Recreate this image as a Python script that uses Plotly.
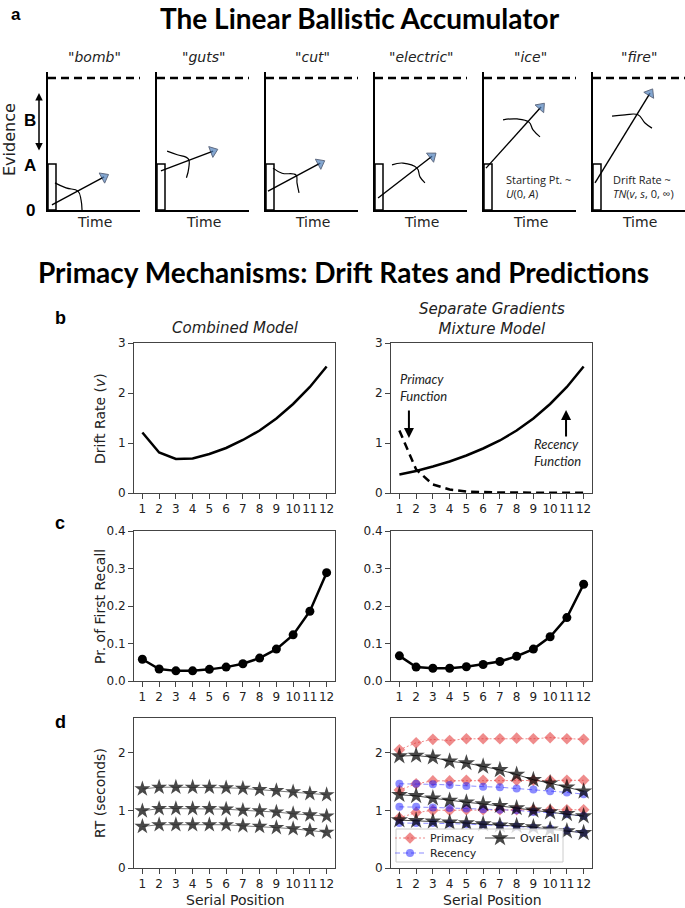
import plotly.graph_objects as go

W, H = 685, 908

# ---------------- data ----------------
positions = list(range(1, 13))
tick_labels = [str(p) for p in positions]

# panel b: drift rates
drift_combined = [1.21, 0.81, 0.68, 0.69, 0.78, 0.90, 1.06, 1.25, 1.49, 1.78, 2.12, 2.53]
drift_recency = [0.37, 0.44, 0.53, 0.63, 0.75, 0.89, 1.05, 1.25, 1.49, 1.78, 2.12, 2.53]
drift_primacy = [1.25, 0.47, 0.17, 0.07, 0.03, 0.015, 0.01, 0.008, 0.006, 0.005, 0.005, 0.005]

# panel c: probability of first recall
pfr_combined = [0.058, 0.032, 0.027, 0.027, 0.031, 0.037, 0.046, 0.061, 0.085, 0.123, 0.186, 0.289]
pfr_mixture = [0.067, 0.037, 0.034, 0.034, 0.038, 0.044, 0.052, 0.066, 0.085, 0.118, 0.169, 0.258]

# panel d: RT quantiles (seconds)
rt_combined_q90 = [1.37, 1.40, 1.40, 1.40, 1.40, 1.39, 1.38, 1.36, 1.34, 1.32, 1.29, 1.27]
rt_combined_q50 = [0.99, 1.03, 1.03, 1.03, 1.03, 1.02, 1.00, 0.99, 0.97, 0.94, 0.92, 0.90]
rt_combined_q10 = [0.72, 0.75, 0.75, 0.75, 0.75, 0.75, 0.73, 0.72, 0.70, 0.68, 0.65, 0.62]

rt_primacy_q90 = [2.05, 2.17, 2.23, 2.21, 2.24, 2.24, 2.24, 2.25, 2.24, 2.26, 2.24, 2.23]
rt_primacy_q50 = [1.35, 1.46, 1.51, 1.51, 1.52, 1.52, 1.52, 1.52, 1.52, 1.52, 1.52, 1.52]
rt_primacy_q10 = [0.87, 0.96, 1.00, 1.00, 1.01, 1.01, 1.01, 1.01, 1.01, 1.01, 1.01, 1.01]

rt_recency_q90 = [1.46, 1.46, 1.45, 1.44, 1.42, 1.41, 1.40, 1.38, 1.36, 1.33, 1.31, 1.28]
rt_recency_q50 = [1.06, 1.06, 1.05, 1.04, 1.03, 1.02, 1.01, 1.00, 0.97, 0.96, 0.93, 0.90]
rt_recency_q10 = [0.78, 0.78, 0.78, 0.77, 0.76, 0.75, 0.74, 0.72, 0.70, 0.68, 0.65, 0.61]

rt_overall_q90 = [1.94, 1.95, 1.92, 1.85, 1.82, 1.76, 1.70, 1.62, 1.53, 1.47, 1.40, 1.33]
rt_overall_q50 = [1.27, 1.25, 1.21, 1.17, 1.14, 1.11, 1.08, 1.04, 1.00, 0.97, 0.94, 0.90]
rt_overall_q10 = [0.83, 0.82, 0.81, 0.79, 0.78, 0.76, 0.74, 0.73, 0.71, 0.67, 0.64, 0.61]

# panel a: LBA schematic (evidence units; A = 1)
lba_words = ["bomb", "guts", "cut", "electric", "ice", "fire"]
lba_threshold = 2.87
lba_A = 1.0
lba_start_x = [0.043, 0.043, 0.022, 0.033, 0.022, 0.022]
lba_start_y = [0.11, 0.85, 0.41, 0.26, 0.91, 0.59]
lba_end_x = [0.61, 0.61, 0.59, 0.62, 0.62, 0.62]
lba_end_y = [0.72, 1.28, 1.02, 1.17, 2.24, 2.54]
lba_squiggle_x = [
    [0.076, 0.196, 0.326, 0.359, 0.37],
    [0.11, 0.22, 0.34, 0.345, 0.32],
    [0.076, 0.174, 0.326, 0.337, 0.359],
    [0.185, 0.304, 0.457, 0.489, 0.543],
    [0.207, 0.359, 0.489, 0.533, 0.609],
    [0.207, 0.348, 0.489, 0.565, 0.641],
]
lba_squiggle_y = [
    [0.59, 0.48, 0.41, 0.22, 0.0],
    [1.28, 1.20, 1.11, 0.91, 0.70],
    [0.91, 0.80, 0.76, 0.59, 0.37],
    [0.98, 1.02, 0.91, 0.72, 0.59],
    [1.96, 1.98, 1.91, 1.74, 1.59],
    [2.04, 2.07, 2.07, 1.89, 1.78],
]

# ---------------- helpers ----------------
def fx(p):
    return p / W

def fy(p):
    return 1 - p / H

DJ = "DejaVu Sans, Verdana, sans-serif"
TXT = "#222222"
SPINE = "#444444"

fig = go.Figure()
layout = {}
shapes = []
annotations = []

def label(text, xp, yp, size=14, family=DJ, color=TXT, angle=0, xanchor="center", align="center"):
    annotations.append(dict(text=text, x=fx(xp), y=fy(yp), xref="paper", yref="paper",
                            xanchor=xanchor, yanchor="middle", align=align, textangle=angle,
                            showarrow=False, font=dict(family=family, size=size, color=color)))

def data_axes(n, xl, xr, yt, yb, yrange, ytickvals, yticktext):
    layout[f"xaxis{n}"] = dict(
        domain=[fx(xl), fx(xr)], range=[0.5, 12.5], anchor=f"y{n}",
        tickvals=positions, ticktext=tick_labels, ticks="outside", ticklen=5,
        tickwidth=1, tickcolor=SPINE, showline=True, mirror=True, linecolor=SPINE,
        linewidth=1, showgrid=False, zeroline=False, tickangle=0, automargin=False,
        tickfont=dict(family=DJ, size=12, color=TXT), fixedrange=True,
    )
    layout[f"yaxis{n}"] = dict(
        domain=[fy(yb), fy(yt)], range=yrange, anchor=f"x{n}",
        tickvals=ytickvals, ticktext=yticktext, ticks="outside", ticklen=5,
        tickwidth=1, tickcolor=SPINE, showline=True, mirror=True, linecolor=SPINE,
        linewidth=1, showgrid=False, zeroline=False, automargin=False,
        tickfont=dict(family=DJ, size=12, color=TXT), fixedrange=True,
    )

LX = (134, 335)
RX = (391, 592)
B_Y = (343, 493)
C_Y = (531, 681)
D_Y = (718, 868)

data_axes(1, *LX, *B_Y, [0, 3], [0, 1, 2, 3], ["0", "1", "2", "3"])
data_axes(2, *RX, *B_Y, [0, 3], [0, 1, 2, 3], ["0", "1", "2", "3"])
data_axes(3, *LX, *C_Y, [0, 0.4], [0, 0.1, 0.2, 0.3, 0.4], ["0.0", "0.1", "0.2", "0.3", "0.4"])
data_axes(4, *RX, *C_Y, [0, 0.4], [0, 0.1, 0.2, 0.3, 0.4], ["0.0", "0.1", "0.2", "0.3", "0.4"])
data_axes(5, *LX, *D_Y, [0, 2.6], [0, 1, 2], ["0", "1", "2"])
data_axes(6, *RX, *D_Y, [0, 2.6], [0, 1, 2], ["0", "1", "2"])

# --- panel b ---
fig.add_trace(go.Scatter(x=positions, y=drift_combined, mode="lines",
                         line=dict(color="black", width=2.5), xaxis="x", yaxis="y",
                         showlegend=False))
fig.add_trace(go.Scatter(x=positions, y=drift_recency, mode="lines",
                         line=dict(color="black", width=2.5), xaxis="x2", yaxis="y2",
                         showlegend=False))
fig.add_trace(go.Scatter(x=positions, y=drift_primacy, mode="lines",
                         line=dict(color="black", width=2.5, dash="8px,5px"),
                         xaxis="x2", yaxis="y2", showlegend=False))

# --- panel c ---
for vals, n in [(pfr_combined, 3), (pfr_mixture, 4)]:
    fig.add_trace(go.Scatter(x=positions, y=vals, mode="lines+markers",
                             line=dict(color="black", width=2.5),
                             marker=dict(color="black", size=9),
                             xaxis=f"x{n}", yaxis=f"y{n}", showlegend=False))

# --- panel d left ---
for vals in [rt_combined_q90, rt_combined_q50, rt_combined_q10]:
    fig.add_trace(go.Scatter(x=positions, y=vals, mode="lines+markers",
                             line=dict(color="rgba(90,90,90,0.8)", width=1),
                             marker=dict(symbol="star", color="rgba(40,40,40,0.85)", size=12,
                                         line=dict(width=0)),
                             xaxis="x5", yaxis="y5", showlegend=False))

# --- panel d right ---
RED = "rgba(225,45,45,0.55)"
BLUE = "rgba(25,25,255,0.5)"
GREY = "rgba(0,0,0,0.72)"
for i, vals in enumerate([rt_primacy_q90, rt_primacy_q50, rt_primacy_q10]):
    fig.add_trace(go.Scatter(x=positions, y=vals, mode="lines+markers", name="Primacy",
                             line=dict(color=RED, width=1, dash="2px,2px"),
                             marker=dict(symbol="diamond", color=RED, size=9, line=dict(width=0)),
                             xaxis="x6", yaxis="y6", showlegend=(i == 0), legend="legend"))
for i, vals in enumerate([rt_recency_q90, rt_recency_q50, rt_recency_q10]):
    fig.add_trace(go.Scatter(x=positions, y=vals, mode="lines+markers", name="Recency",
                             line=dict(color=BLUE, width=1, dash="5px,3px"),
                             marker=dict(symbol="circle", color=BLUE, size=8, line=dict(width=0)),
                             xaxis="x6", yaxis="y6", showlegend=(i == 0), legend="legend3"))
for i, vals in enumerate([rt_overall_q90, rt_overall_q50, rt_overall_q10]):
    fig.add_trace(go.Scatter(x=positions, y=vals, mode="lines+markers", name="Overall",
                             line=dict(color=GREY, width=1),
                             marker=dict(symbol="star", color=GREY, size=13, line=dict(width=0)),
                             xaxis="x6", yaxis="y6", showlegend=(i == 0), legend="legend2"))

# --- panel a: LBA schematic ---
lba_left = [48, 157, 266, 375, 484, 593]
lba_w = 92
LBA_TOP, LBA_BOT = 72, 210
for i, left in enumerate(lba_left):
    n = 7 + i
    layout[f"xaxis{n}"] = dict(domain=[fx(left), min(1.0, fx(left + lba_w))], range=[0, 1],
                               anchor=f"y{n}", showline=True, linecolor="black", linewidth=2,
                               showticklabels=False, ticks="", showgrid=False, zeroline=False,
                               automargin=False, fixedrange=True)
    layout[f"yaxis{n}"] = dict(domain=[fy(LBA_BOT), fy(LBA_TOP)], range=[0, 3],
                               anchor=f"x{n}", showline=True, linecolor="black", linewidth=2,
                               showticklabels=False, ticks="", showgrid=False, zeroline=False,
                               automargin=False, fixedrange=True)
    xa, ya = f"x{n}", f"y{n}"
    fig.add_trace(go.Scatter(x=[0, 1], y=[lba_threshold, lba_threshold], mode="lines",
                             line=dict(color="black", width=2.5, dash="8px,5px"),
                             xaxis=xa, yaxis=ya, showlegend=False, hoverinfo="skip"))
    shapes.append(dict(type="rect", xref=xa, yref=ya, x0=0, x1=8 / lba_w, y0=0, y1=lba_A,
                       line=dict(color="black", width=1.5), fillcolor="white", layer="below"))
    fig.add_trace(go.Scatter(x=lba_squiggle_x[i], y=lba_squiggle_y[i], mode="lines",
                             line=dict(color="black", width=1.2, shape="spline", smoothing=1.2),
                             xaxis=xa, yaxis=ya, showlegend=False, hoverinfo="skip"))
    fig.add_trace(go.Scatter(x=[lba_start_x[i], lba_end_x[i]], y=[lba_start_y[i], lba_end_y[i]],
                             mode="lines+markers",
                             line=dict(color="black", width=1.4),
                             marker=dict(symbol=["circle", "triangle-up"], size=[0, 10],
                                         color="#4f81bd", angleref="previous",
                                         line=dict(color="#1f2f4f", width=1)),
                             xaxis=xa, yaxis=ya, showlegend=False, hoverinfo="skip"))
    label(f'"<i>{lba_words[i]}</i>"', left + lba_w / 2, 57, size=14)
    label("Time", left + lba_w / 2, 222, size=14)

annotations.append(dict(text="Starting Pt. ~<br><i>U</i>(0, <i>A</i>)", x=0.22, y=0.5,
                        xref="x11", yref="y11", xanchor="left", yanchor="middle", align="left",
                        showarrow=False, font=dict(family="Open Sans", size=11, color=TXT)))
annotations.append(dict(text="Drift Rate ~<br><i>TN</i>(<i>v</i>, <i>s</i>, 0, ∞)", x=0.2, y=0.5,
                        xref="x12", yref="y12", xanchor="left", yanchor="middle", align="left",
                        showarrow=False, font=dict(family="Open Sans", size=11, color=TXT)))

for t, yy in [("B", 120), ("A", 165), ("0", 210)]:
    label(f"<b>{t}</b>", 30, yy, size=17, family="Liberation Sans", color="black")
annotations.append(dict(text="", x=fx(39), y=fy(93), xref="paper", yref="paper", showarrow=True,
                        ax=0, ay=59, arrowside="end+start", arrowhead=2, arrowsize=1,
                        arrowwidth=1.5, arrowcolor="black"))
label("Evidence", 10, 140, size=16, angle=-90)

label("<b>a</b>", 16, 15, size=17, family="Liberation Sans", color="black")
label("<b>The Linear Ballistic Accumulator</b>", 360, 18, size=28, family="Lato", color="black")
label("<b>Primacy Mechanisms: Drift Rates and Predictions</b>", 343, 272, size=28,
      family="Lato", color="black")
for t, yy in [("b", 318), ("c", 523), ("d", 722)]:
    label(f"<b>{t}</b>", 60, yy, size=18, family="Liberation Sans", color="black")

label("<i>Combined Model</i>", 235, 328, size=15)
label("<i>Separate Gradients</i><br><i>Mixture Model</i>", 492, 319, size=15)

for t, yy in [("Drift Rate (<i>v</i>)", 418), ("Pr. of First Recall", 606), ("RT (seconds)", 793)]:
    label(t, 100, yy, size=14, angle=-90)
for xx in [235, 492]:
    label("Serial Position", xx, 900, size=14)

annotations.append(dict(text="<i>Primacy</i><br><i>Function</i>", x=0.9, y=2.12, xref="x2", yref="y2",
                        xanchor="left", yanchor="middle", align="left", showarrow=False,
                        font=dict(family="Lato", size=13, color=TXT)))
annotations.append(dict(text="<i>Recency</i><br><i>Function</i>", x=8.9, y=0.82, xref="x2", yref="y2",
                        xanchor="left", yanchor="middle", align="left", showarrow=False,
                        font=dict(family="Lato", size=13, color=TXT)))
annotations.append(dict(text="", x=1.57, y=1.1, xref="x2", yref="y2", ax=1.57, ay=1.68,
                        axref="x2", ayref="y2", showarrow=True, arrowhead=2, arrowsize=1,
                        arrowwidth=2, arrowcolor="black"))
annotations.append(dict(text="", x=10.95, y=1.66, xref="x2", yref="y2", ax=10.95, ay=1.1,
                        axref="x2", ayref="y2", showarrow=True, arrowhead=2, arrowsize=1,
                        arrowwidth=2, arrowcolor="black"))

shapes.append(dict(type="rect", xref="paper", yref="paper", x0=fx(396), x1=fx(563),
                   y0=fy(862), y1=fy(829), line=dict(color="#cccccc", width=1),
                   fillcolor="rgba(255,255,255,0.8)", layer="above"))

def leg(xp, yp):
    return dict(x=fx(xp), y=fy(yp), xanchor="left", yanchor="middle",
                bgcolor="rgba(0,0,0,0)", font=dict(family=DJ, size=11, color=TXT),
                itemwidth=30, borderwidth=0)

layout.update(dict(
    template="none",
    width=W, height=H, margin=dict(l=0, r=0, t=0, b=0, pad=0, autoexpand=False),
    paper_bgcolor="white", plot_bgcolor="white",
    font=dict(family=DJ, color=TXT),
    shapes=shapes, annotations=annotations,
    legend=leg(390, 838),
    legend3=leg(390, 853),
    legend2=leg(480, 838),
))
fig.update_layout(**layout)
fig.write_html("out.html", post_script="document.body.style.margin='0';",
               config={"displayModeBar": False})
